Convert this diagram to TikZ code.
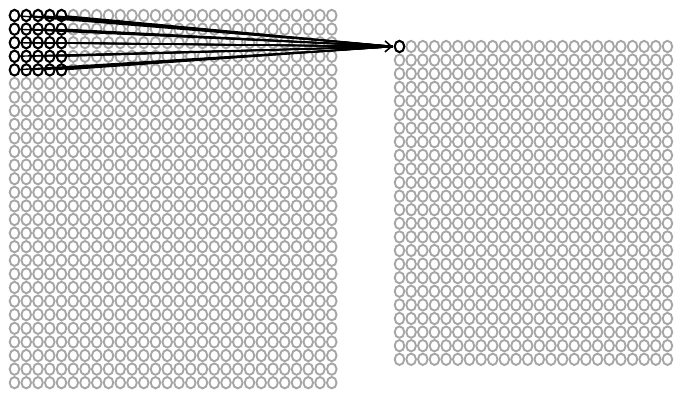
\documentclass[tikz,border=0pt]{standalone}
\usetikzlibrary{shapes.geometric,arrows.meta}
\begin{document}
\begin{tikzpicture}[x=1pt,y=-1pt,
  neuron/.style={ellipse,draw=gray!70,line width=1.9pt,minimum width=9.6pt,minimum height=11.4pt,inner sep=0pt},
  active/.style={neuron,draw=black,line width=2pt},
  link/.style={line width=1.4pt,shorten >=1pt},
  tip/.style={line width=1.4pt,-{Straight Barb[length=6.5pt,width=11pt,line width=1.6pt]},shorten >=1pt}]
\useasboundingbox (0,0) rectangle (700,400);
% input layer 28x28
\foreach \i in {0,...,27}{
  \foreach \j in {0,...,27}{
    \pgfmathsetmacro{\xx}{14.5+11.75*\j}
    \pgfmathsetmacro{\yy}{15.5+13.6*\i}
    \node[neuron] (in-\i-\j) at (\xx,\yy) {};
  }
}
% receptive field
\foreach \i in {0,...,4}{
  \foreach \j in {0,...,4}{
    \node[active] at (in-\i-\j) {};
  }
}
% hidden layer 24x24
\foreach \i in {0,...,23}{
  \foreach \j in {0,...,23}{
    \pgfmathsetmacro{\xx}{399.5+11.65*\j}
    \pgfmathsetmacro{\yy}{46.5+13.6*\i}
    \node[neuron] (h-\i-\j) at (\xx,\yy) {};
  }
}
\node[active] (hid) at (h-0-0) {};
% connections
\foreach \i in {0,...,4}{
  \foreach \j in {0,...,4}{
    \draw[link] (in-\i-\j) -- (hid.west);
  }
}
\draw[tip] (in-2-2) -- (hid.west);
\end{tikzpicture}
\end{document}
